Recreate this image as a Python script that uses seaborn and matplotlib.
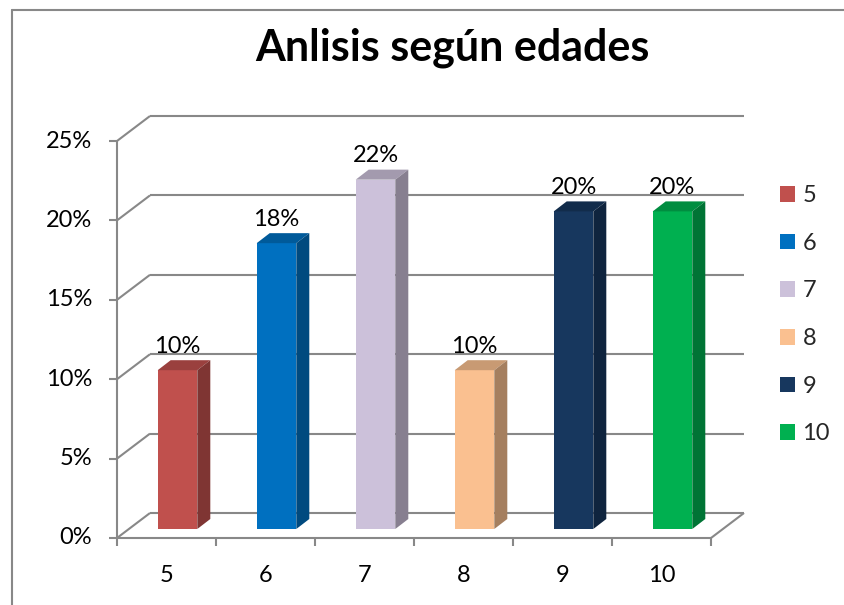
import matplotlib
matplotlib.use("Agg")
import matplotlib.pyplot as plt
from matplotlib.lines import Line2D
from matplotlib.patches import Polygon, Rectangle
import matplotlib.colors as mcolors
import seaborn as sns

# ── Datos ────────────────────────────────────────────────────────────────────
edades = ["5", "6", "7", "8", "9", "10"]
porcentajes = [10, 18, 22, 10, 20, 20]
colores = ["#C0504D", "#0070C0", "#CCC1DA", "#FAC090", "#17375E", "#00B050"]
yticks = [0, 5, 10, 15, 20, 25]
titulo = "Anlisis según edades"

# ── Configuración ────────────────────────────────────────────────────────────
W, H, DPI = 844, 605, 100
GRIS = "#888888"
FS = 17
sns.set_theme(style="white")
plt.rcParams["font.family"] = ["Lato", "DejaVu Sans"]

fig = plt.figure(figsize=(W / DPI, H / DPI), dpi=DPI)
fig.patch.set_facecolor("white")

# los ejes representan el plano frontal de las barras (pixeles de la imagen)
x0, x1, y_base, y_top = 128, 722, 529, 132
ax = fig.add_axes([x0 / W, 1 - y_base / H, (x1 - x0) / W, (y_base - y_top) / H])
n = len(edades)
ymax = yticks[-1]
ax.set_xlim(-0.5, n - 0.5)
ax.set_ylim(0, ymax)
ax.axis("off")

ux = (x1 - x0) / n      # px por categoria
uy = (y_base - y_top) / ymax  # px por punto porcentual


def d(px, py):
    """offset en pixeles -> unidades de datos (y hacia arriba)"""
    return px / ux, py / uy


FRONT = d(-11, -9)
BACK = d(22, 16)
BAR_D = d(13, 10)
xl, xr = -0.5, n - 0.5
kw = dict(color=GRIS, lw=1.5, clip_on=False, solid_capstyle="butt")

# ── Paredes y rejilla ───────────────────────────────────────────────────────
for yt in yticks:
    ax.plot([xl + BACK[0], xr + BACK[0]], [yt + BACK[1]] * 2, zorder=1, **kw)
    ax.plot([xl + FRONT[0], xl + BACK[0]], [yt + FRONT[1], yt + BACK[1]], zorder=1, **kw)
    # marca del eje y
    ax.plot([xl + FRONT[0] - 8 / ux, xl + FRONT[0]], [yt + FRONT[1]] * 2, zorder=1, **kw)
    ax.text(xl + FRONT[0] - 25 / ux, yt + FRONT[1], f"{yt}%", ha="right",
            va="center", fontsize=FS, color="black")

# eje vertical frontal
ax.plot([xl + FRONT[0]] * 2, [FRONT[1], ymax + FRONT[1]], zorder=1, **kw)
# suelo: borde frontal y lado derecho
ax.plot([xl + FRONT[0], xr + FRONT[0]], [FRONT[1]] * 2, zorder=1, **kw)
ax.plot([xr + FRONT[0], xr + BACK[0]], [FRONT[1], BACK[1]], zorder=1, **kw)
# marcas del eje x y etiquetas
for i in range(n + 1):
    xb = i - 0.5 + FRONT[0]
    ax.plot([xb, xb], [FRONT[1], FRONT[1] - 8 / uy], zorder=1, **kw)
for i, lab in enumerate(edades):
    ax.text(i + FRONT[0], FRONT[1] - 37 / uy, lab, ha="center", va="center",
            fontsize=FS, color="black")

# ── Barras ──────────────────────────────────────────────────────────────────
sns.barplot(x=edades, y=porcentajes, hue=edades, palette=colores, width=0.4,
            saturation=1, legend=False, ax=ax, zorder=3, linewidth=0)
ax.set_xlim(-0.5, n - 0.5)
ax.set_ylim(0, ymax)

bars = [p for p in ax.patches if isinstance(p, Rectangle)]
bars.sort(key=lambda p: p.get_x())
for p, val, col in zip(bars, porcentajes, colores):
    x, w, h = p.get_x(), p.get_width(), p.get_height()
    rgb = mcolors.to_rgb(col)
    top_c = tuple(c * 0.8 for c in rgb)
    side_c = tuple(c * 0.66 for c in rgb)
    top = Polygon([(x, h), (x + w, h), (x + w + BAR_D[0], h + BAR_D[1]),
                   (x + BAR_D[0], h + BAR_D[1])], closed=True, fc=top_c,
                  ec="none", zorder=3, clip_on=False)
    side = Polygon([(x + w, 0), (x + w + BAR_D[0], BAR_D[1]),
                    (x + w + BAR_D[0], h + BAR_D[1]), (x + w, h)], closed=True,
                   fc=side_c, ec="none", zorder=3, clip_on=False)
    ax.add_patch(top)
    ax.add_patch(side)
    ax.annotate(f"{val}%", (x + w / 2, h), xytext=(0, 24),
                textcoords="offset pixels", ha="center", va="center",
                fontsize=FS, color="black", zorder=5, annotation_clip=False)

# ── Leyenda ─────────────────────────────────────────────────────────────────
handles = [Rectangle((0, 0), 1, 1, fc=c, ec="none") for c in colores]
fig.legend(handles, edades, loc="upper left", bbox_to_anchor=(780 / W, 1 - 185 / H),
           frameon=False, fontsize=FS, handlelength=0.65, handleheight=0.65,
           handletextpad=0.3, labelspacing=1.13, borderpad=0, borderaxespad=0)

# ── Título y marco ──────────────────────────────────────────────────────────
fig.text(452 / W, 1 - 60 / H, titulo, ha="center", va="baseline",
         fontsize=31, fontweight="bold", color="black")
fig.add_artist(Line2D([12 / W, 1], [1 - 10 / H] * 2, color=GRIS, lw=1.5))
fig.add_artist(Line2D([12 / W] * 2, [0, 1 - 10 / H], color=GRIS, lw=1.5))

fig.savefig("out.png", dpi=DPI, facecolor="white")
